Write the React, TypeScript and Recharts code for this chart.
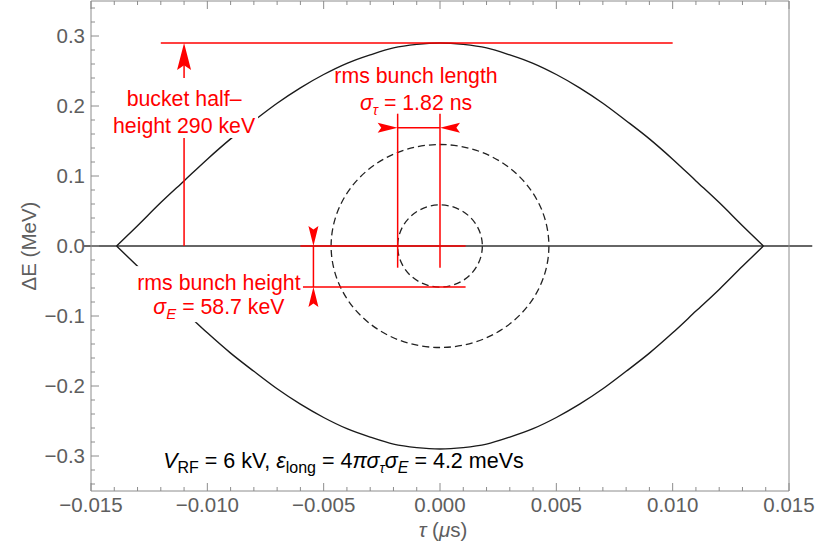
import React from "react";
import {
  LineChart,
  Line,
  XAxis,
  YAxis,
  ReferenceLine,
  ReferenceDot,
  ReferenceArea,
  Label,
} from "recharts";

// separatrix of the stationary bucket
const tau = [
  -0.0139, -0.013, -0.012, -0.011, -0.01, -0.009, -0.008, -0.007, -0.006, -0.005, -0.004, -0.003, -0.002, -0.001, 0,
  0.001, 0.002, 0.003, 0.004, 0.005, 0.006, 0.007, 0.008, 0.009, 0.01, 0.011, 0.012, 0.013, 0.0139,
];
const upperE = [
  0, 0.029, 0.062, 0.093, 0.124, 0.153, 0.179, 0.204, 0.226, 0.245, 0.261, 0.273, 0.283, 0.288, 0.29,
  0.288, 0.283, 0.273, 0.261, 0.245, 0.226, 0.204, 0.179, 0.153, 0.124, 0.093, 0.062, 0.029, 0,
];
const lowerE = [
  0, -0.029, -0.062, -0.093, -0.124, -0.153, -0.179, -0.204, -0.226, -0.245, -0.261, -0.273, -0.283, -0.288, -0.29,
  -0.288, -0.283, -0.273, -0.261, -0.245, -0.226, -0.204, -0.179, -0.153, -0.124, -0.093, -0.062, -0.029, 0,
];

// bunch contours: half widths in tau and in dE
const contourTau = [0.00182, 0.00468];
const contourE = [0.0587, 0.145];

const xMajorTicks = [-0.015, -0.01, -0.005, 0, 0.005, 0.01, 0.015];
const xTickLabels = ["\u22120.015", "\u22120.010", "\u22120.005", "0.000", "0.005", "0.010", "0.015"];
const xMinorTicks = [
  -0.014, -0.013, -0.012, -0.011, -0.009, -0.008, -0.007, -0.006, -0.004, -0.003, -0.002, -0.001,
  0.001, 0.002, 0.003, 0.004, 0.006, 0.007, 0.008, 0.009, 0.011, 0.012, 0.013, 0.014,
];
const yMajorTicks = [-0.3, -0.2, -0.1, 0, 0.1, 0.2, 0.3];
const yTickLabels = ["\u22120.3", "\u22120.2", "\u22120.1", "0.0", "0.1", "0.2", "0.3"];
const yMinorTicks = [
  -0.34, -0.32, -0.28, -0.26, -0.24, -0.22, -0.18, -0.16, -0.14, -0.12, -0.08, -0.06, -0.04, -0.02,
  0.02, 0.04, 0.06, 0.08, 0.12, 0.14, 0.16, 0.18, 0.22, 0.24, 0.26, 0.28, 0.32, 0.34,
];

// red measurement lines [x1, y1, x2, y2]
const redSegments = [
  [-0.012, 0.29, 0.01, 0.29],
  [-0.011, 0, -0.011, 0.27],
  [-0.00182, 0.189, -0.00182, -0.031],
  [0, 0.189, 0, -0.031],
  [-0.00182, 0.169, 0, 0.169],
  [-0.006, 0, 0.0011, 0],
  [-0.006, -0.0587, 0.0011, -0.0587],
  [-0.00544, 0, -0.00544, -0.0587],
];

const data = tau.map((t, i) => ({ t, up: upperE[i], low: lowerE[i] }));
const xTicks = [...xMajorTicks, ...xMinorTicks].sort((a, b) => a - b);
const yTicks = [...yMajorTicks, ...yMinorTicks].sort((a, b) => a - b);

const FONT = "'Liberation Sans', Arial, Helvetica, sans-serif";
const RED = "#ff0000";
const FRAME = "#8c8c8c";
const LABEL = "#5e5e5e";

const near = (a: number, b: number) => Math.abs(a - b) < 1e-9;

const makeTick = (side: "bottom" | "top" | "left" | "right") => (p: any) => {
  const v = p.payload.value;
  const horiz = side === "bottom" || side === "top";
  const majors = horiz ? xMajorTicks : yMajorTicks;
  const labels = horiz ? xTickLabels : yTickLabels;
  const idx = majors.findIndex((m) => near(m, v));
  const len = idx >= 0 ? 8 : 4;
  const { x, y } = p;
  let ln;
  if (side === "bottom") ln = <line x1={x} x2={x} y1={y} y2={y - len} />;
  else if (side === "top") ln = <line x1={x} x2={x} y1={y} y2={y + len} />;
  else if (side === "left") ln = <line x1={x} x2={x + len} y1={y} y2={y} />;
  else ln = <line x1={x} x2={x - len} y1={y} y2={y} />;
  return (
    <g stroke={FRAME} strokeWidth={1}>
      {ln}
      {idx >= 0 && side === "bottom" && (
        <text x={x} y={y + 21} textAnchor="middle" fill={LABEL} stroke="none" fontSize={20.5} fontFamily={FONT}>
          {labels[idx]}
        </text>
      )}
      {idx >= 0 && side === "left" && (
        <text x={x - 6} y={y + 7} textAnchor="end" fill={LABEL} stroke="none" fontSize={20.5} fontFamily={FONT}>
          {labels[idx]}
        </text>
      )}
    </g>
  );
};

const Arrow = ({ cx, cy, dir, len, half }: any) => {
  const n = len * 0.18;
  let pts: number[][];
  if (dir === "up") pts = [[0, 0], [half, len], [0, len - n], [-half, len]];
  else if (dir === "down") pts = [[0, 0], [half, -len], [0, -len + n], [-half, -len]];
  else if (dir === "right") pts = [[0, 0], [-len, half], [-len + n, 0], [-len, -half]];
  else pts = [[0, 0], [len, half], [len - n, 0], [len, -half]];
  return <polygon points={pts.map(([a, b]) => `${cx + a},${cy + b}`).join(" ")} fill={RED} />;
};

const redText = { fill: RED, fontSize: 21.3, fontFamily: FONT, textAnchor: "middle" as const };

const BucketText = ({ cx, cy }: any) => (
  <g>
    <rect x={cx - 66} y={cy - 28} width={140} height={60} fill="#fff" />
    <text x={cx} y={cy} {...redText}>bucket half{"\u2013"}</text>
    <text x={cx} y={cy + 27} {...redText}>height 290 keV</text>
  </g>
);

const LengthText = ({ cx, cy }: any) => (
  <g>
    <text x={cx} y={cy} {...redText}>rms bunch length</text>
    <text x={cx} y={cy + 27} {...redText}>
      <tspan fontStyle="italic">σ</tspan>
      <tspan dy={5} fontSize={14} fontStyle="italic">τ</tspan>
      <tspan dy={-5}> = 1.82 ns</tspan>
    </text>
  </g>
);

const HeightText = ({ cx, cy }: any) => (
  <g>
    <rect x={cx - 84} y={cy - 24} width={168} height={56} fill="#fff" />
    <text x={cx} y={cy} {...redText}>rms bunch height</text>
    <text x={cx} y={cy + 24} {...redText}>
      <tspan fontStyle="italic">σ</tspan>
      <tspan dy={5} fontSize={15} fontStyle="italic">E</tspan>
      <tspan dy={-5}> = 58.7 keV</tspan>
    </text>
  </g>
);

const ParamText = ({ cx, cy }: any) => (
  <text x={cx} y={cy} fill="#000" fontSize={21.5} fontFamily={FONT}>
    <tspan fontStyle="italic">V</tspan>
    <tspan dy={5} fontSize={16}>RF</tspan>
    <tspan dy={-5}> = 6 kV, </tspan>
    <tspan fontStyle="italic">ε</tspan>
    <tspan dy={5} fontSize={16}>long</tspan>
    <tspan dy={-5}> = 4</tspan>
    <tspan fontStyle="italic">πσ</tspan>
    <tspan dy={5} fontSize={14} fontStyle="italic">τ</tspan>
    <tspan dy={-5} fontStyle="italic">σ</tspan>
    <tspan dy={5} fontSize={16} fontStyle="italic">E</tspan>
    <tspan dy={-5}> = 4.2 meVs</tspan>
  </text>
);

const Ellipse = (p: any) => (
  <ellipse
    cx={p.x + p.width / 2}
    cy={p.y + p.height / 2}
    rx={Math.abs(p.width) / 2}
    ry={Math.abs(p.height) / 2}
    fill="none"
    stroke="#222"
    strokeWidth={1.3}
    strokeDasharray="7 4"
  />
);

export default function App() {
  return (
    <div style={{ position: "absolute", left: 0, top: 0, width: 827, height: 548, background: "#fff" }}>
      <LineChart width={827} height={548} data={data} margin={{ top: 0, right: 37, bottom: 0, left: 0 }}>
        <XAxis
          dataKey="t"
          type="number"
          domain={[-0.015, 0.015]}
          ticks={xTicks}
          interval={0}
          tickSize={0}
          tickMargin={0}
          tickLine={false}
          height={57}
          axisLine={{ stroke: FRAME }}
          tick={makeTick("bottom")}
        >
          <Label
            content={(p: any) => {
              const vb = p.viewBox;
              return (
                <text x={vb.x + vb.width / 2 + 3} y={vb.y + 46} textAnchor="middle" fill={LABEL} fontSize={20.5} fontFamily={FONT}>
                  <tspan fontStyle="italic">τ</tspan> (<tspan fontStyle="italic">μ</tspan>s)
                </text>
              );
            }}
          />
        </XAxis>
        <XAxis
          xAxisId="top"
          orientation="top"
          dataKey="t"
          type="number"
          domain={[-0.015, 0.015]}
          ticks={xTicks}
          interval={0}
          tickSize={0}
          tickMargin={0}
          tickLine={false}
          height={1}
          axisLine={{ stroke: FRAME }}
          tick={makeTick("top")}
        />
        <YAxis
          type="number"
          domain={[-0.35, 0.35]}
          ticks={yTicks}
          interval={0}
          tickSize={0}
          tickMargin={0}
          tickLine={false}
          width={91}
          axisLine={{ stroke: FRAME }}
          tick={makeTick("left")}
        >
          <Label
            content={(p: any) => {
              const vb = p.viewBox;
              const cy = vb.y + vb.height / 2;
              return (
                <text x={28} y={cy} transform={`rotate(-90 28 ${cy})`} textAnchor="middle" dominantBaseline="central" fill={LABEL} fontSize={20.5} fontFamily={FONT}>
                  ΔE (MeV)
                </text>
              );
            }}
          />
        </YAxis>
        <YAxis
          yAxisId="right"
          orientation="right"
          type="number"
          domain={[-0.35, 0.35]}
          ticks={yTicks}
          interval={0}
          tickSize={0}
          tickMargin={0}
          tickLine={false}
          width={1}
          axisLine={{ stroke: FRAME }}
          tick={makeTick("right")}
        />

        <ReferenceLine
          segment={[{ x: -0.0153, y: 0 }, { x: 0.016, y: 0 }]}
          ifOverflow="visible"
          stroke="#333"
          strokeWidth={1.3}
        />
        {contourTau.map((w, i) => (
          <ReferenceArea key={i} x1={-w} x2={w} y1={-contourE[i]} y2={contourE[i]} shape={Ellipse} ifOverflow="visible" />
        ))}
        <Line dataKey="up" type="monotone" stroke="#1a1a1a" strokeWidth={1.4} dot={false} activeDot={false} isAnimationActive={false} />
        <Line dataKey="low" type="monotone" stroke="#1a1a1a" strokeWidth={1.4} dot={false} activeDot={false} isAnimationActive={false} />

        {redSegments.map((s, i) => (
          <ReferenceLine
            key={"r" + i}
            segment={[{ x: s[0], y: s[1] }, { x: s[2], y: s[3] }]}
            ifOverflow="visible"
            stroke={RED}
            strokeWidth={1.5}
          />
        ))}
        <ReferenceDot x={-0.011} y={0.29} ifOverflow="visible" shape={(p: any) => <Arrow cx={p.cx} cy={p.cy} dir="up" len={27} half={7} />} />
        <ReferenceDot x={-0.00182} y={0.169} ifOverflow="visible" shape={(p: any) => <Arrow cx={p.cx} cy={p.cy} dir="right" len={20} half={5} />} />
        <ReferenceDot x={0} y={0.169} ifOverflow="visible" shape={(p: any) => <Arrow cx={p.cx} cy={p.cy} dir="left" len={20} half={5} />} />
        <ReferenceDot x={-0.00544} y={0} ifOverflow="visible" shape={(p: any) => <Arrow cx={p.cx} cy={p.cy} dir="down" len={20} half={5} />} />
        <ReferenceDot x={-0.00544} y={-0.0587} ifOverflow="visible" shape={(p: any) => <Arrow cx={p.cx} cy={p.cy} dir="up" len={20} half={5} />} />

        <ReferenceDot x={-0.011} y={0.2} ifOverflow="visible" shape={(p: any) => <BucketText cx={p.cx} cy={p.cy} />} />
        <ReferenceDot x={-0.00103} y={0.233} ifOverflow="visible" shape={(p: any) => <LengthText cx={p.cx} cy={p.cy} />} />
        <ReferenceDot x={-0.0095} y={-0.063} ifOverflow="visible" shape={(p: any) => <HeightText cx={p.cx} cy={p.cy} />} />
        <ReferenceDot x={-0.0119} y={-0.317} ifOverflow="visible" shape={(p: any) => <ParamText cx={p.cx} cy={p.cy} />} />
      </LineChart>
    </div>
  );
}
